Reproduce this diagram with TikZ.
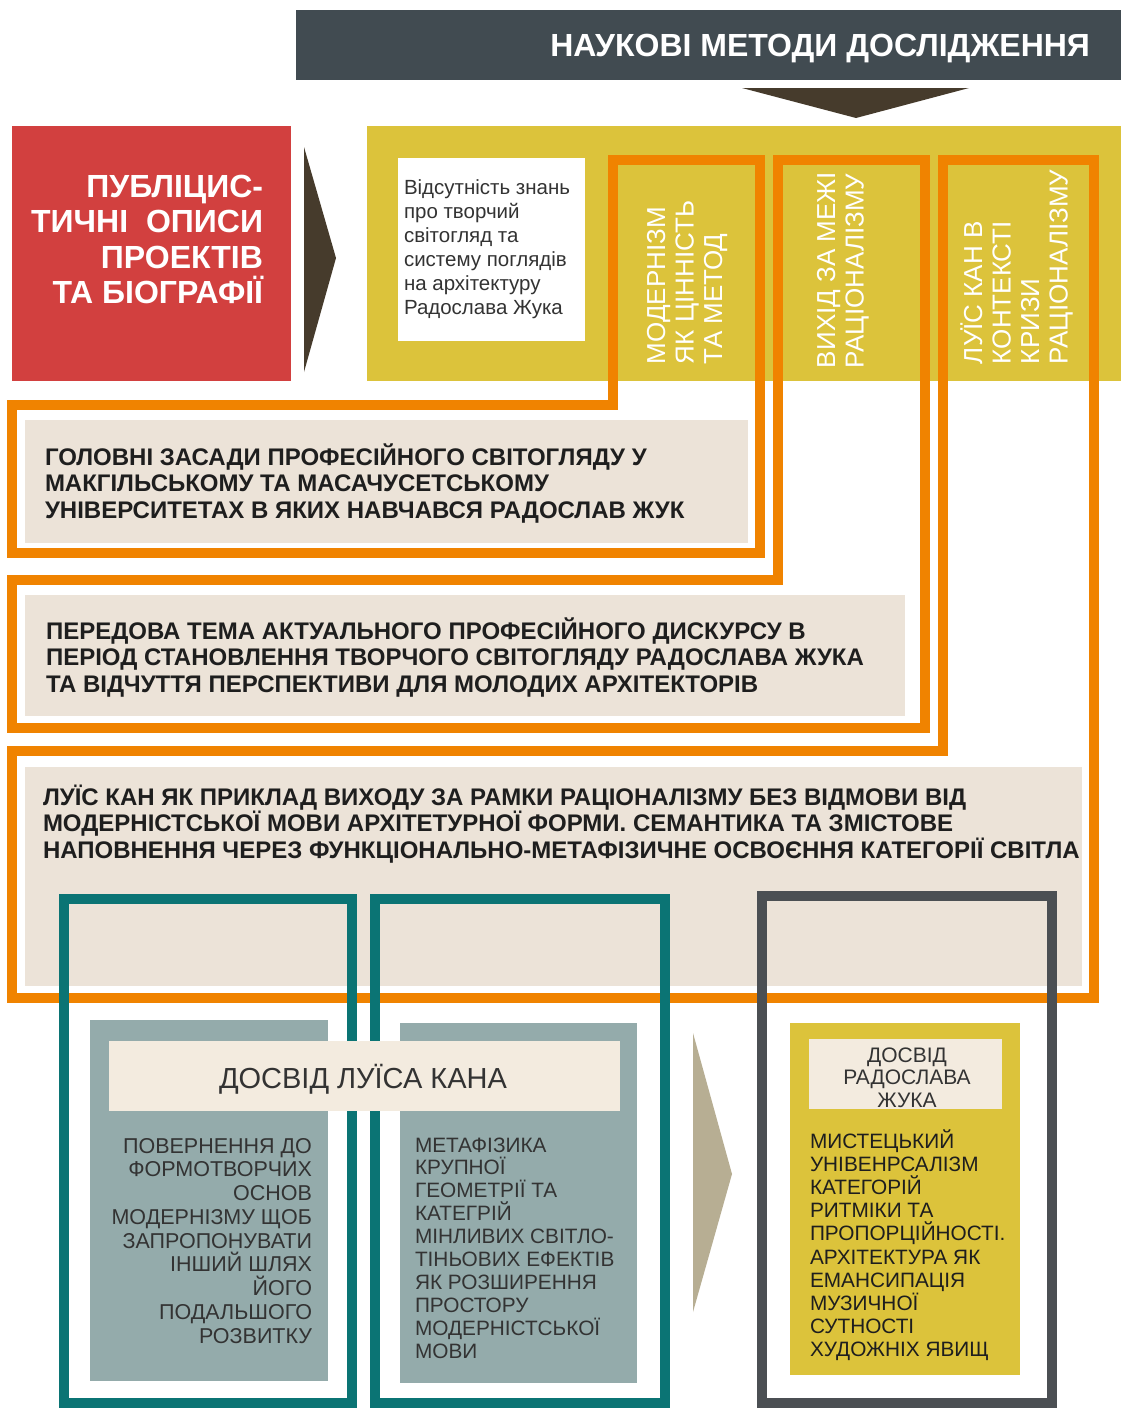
\documentclass[tikz,border=0pt]{standalone}
\usepackage{fontspec}
\setmainfont{Liberation Sans}
\definecolor{hdr}{HTML}{414B51}
\definecolor{brn}{HTML}{463B2C}
\definecolor{redbox}{HTML}{D2403F}
\definecolor{yel}{HTML}{DCC33B}
\definecolor{orng}{HTML}{F08300}
\definecolor{beige}{HTML}{ECE3D8}
\definecolor{beigelt}{HTML}{F3EBDF}
\definecolor{tealc}{HTML}{0B7474}
\definecolor{grayfr}{HTML}{4B4F53}
\definecolor{graybox}{HTML}{94ABAB}
\definecolor{khaki}{HTML}{B7AE93}
\definecolor{txtdark}{HTML}{1E1E1E}
\definecolor{txtmid}{HTML}{333333}
\newcommand\Lleft[1]{\vtop{\halign{##\hfil\cr#1\crcr}}}
\newcommand\Lright[1]{\vtop{\halign{\hfil##\cr#1\crcr}}}
\newcommand\Lcent[1]{\vtop{\halign{\hfil##\hfil\cr#1\crcr}}}
\tikzset{
  txt/.style={inner sep=0pt, outer sep=0pt},
  ofr/.style={draw=orng, line width=10pt, line join=miter},
  tfr/.style={draw=tealc, line width=10pt, line join=miter},
  gfr/.style={draw=grayfr, line width=10pt, line join=miter},
  boldtxt/.style={txt, text=txtdark, font=\bfseries\fontsize{24}{26.5}\selectfont},
  vtxt/.style={txt, text=white, rotate=90, anchor=base west, font=\fontsize{26}{28.5}\selectfont},
}
\begin{document}
\begin{tikzpicture}[x=1pt,y=-1pt]
\useasboundingbox (0,0) rectangle (1121,1408);
\fill[white] (0,0) rectangle (1121,1408);

% header
\fill[hdr] (296,10) rectangle (1121,80);
\node[txt, anchor=base east, text=white, font=\bfseries\fontsize{32}{36}\selectfont] (title) at (1090,56) {НАУКОВІ МЕТОДИ ДОСЛІДЖЕННЯ};
\fill[brn] (742,88) -- (969,88) -- (856,118) -- cycle;

% red box
\fill[redbox] (12,126) rectangle (291,381);
\node[txt, anchor=base east, text=white, font=\bfseries\fontsize{32}{35.5}\selectfont] (pub) at (263,197)
  {\Lright{ПУБЛІЦИС-\cr ТИЧНІ\ \ ОПИСИ\cr ПРОЕКТІВ\cr ТА БІОГРАФІЇ}};
\fill[brn] (304,147) -- (336,258) -- (304,372) -- cycle;

% yellow band
\fill[yel] (367,126) rectangle (1121,381);
\fill[white] (398,158) rectangle (585,341);
\node[txt, anchor=base west, text=txtmid, font=\fontsize{20.5}{24}\selectfont] (abs) at (404,194)
  {\Lleft{Відсутність знань\cr про творчий\cr світогляд та\cr систему поглядів\cr на архітектуру\cr Радослава Жука}};

% beige boxes
\fill[beige] (25,420) rectangle (748,543);
\fill[beige] (25,595) rectangle (905,716);
\fill[beige] (25,767) rectangle (1082,986);

% orange frames
\draw[ofr] (613,160) -- (760,160) -- (760,553) -- (12,553) -- (12,405) -- (613,405) -- cycle;
\draw[ofr] (778,160) -- (925,160) -- (925,728) -- (12,728) -- (12,580) -- (778,580) -- cycle;
\draw[ofr] (943,160) -- (1094,160) -- (1094,998) -- (12,998) -- (12,751) -- (943,751) -- cycle;

% vertical texts
\node[vtxt] (c1) at (665,364) {\Lleft{МОДЕРНІЗМ\cr ЯК ЦІННІСТЬ\cr ТА МЕТОД}};
\node[vtxt] (c2) at (835,368) {\Lleft{ВИХІД ЗА МЕЖІ\cr РАЦІОНАЛІЗМУ}};
\node[vtxt] (c3) at (982,364) {\Lleft{ЛУЇС КАН В\cr КОНТЕКСТІ\cr КРИЗИ\cr РАЦІОНАЛІЗМУ}};

% bold texts
\node[boldtxt, anchor=base west] (t1) at (45,465)
  {\Lleft{ГОЛОВНІ ЗАСАДИ ПРОФЕСІЙНОГО СВІТОГЛЯДУ У\cr МАКГІЛЬСЬКОМУ ТА МАСАЧУСЕТСЬКОМУ\cr УНІВЕРСИТЕТАХ В ЯКИХ НАВЧАВСЯ РАДОСЛАВ ЖУК}};
\node[boldtxt, anchor=base west] (t2) at (46,639)
  {\Lleft{ПЕРЕДОВА ТЕМА АКТУАЛЬНОГО ПРОФЕСІЙНОГО ДИСКУРСУ В\cr ПЕРІОД СТАНОВЛЕННЯ ТВОРЧОГО СВІТОГЛЯДУ РАДОСЛАВА ЖУКА\cr ТА ВІДЧУТТЯ ПЕРСПЕКТИВИ ДЛЯ МОЛОДИХ АРХІТЕКТОРІВ}};
\node[boldtxt, anchor=base west] (t3) at (43,805)
  {\Lleft{ЛУЇС КАН ЯК ПРИКЛАД ВИХОДУ ЗА РАМКИ РАЦІОНАЛІЗМУ БЕЗ ВІДМОВИ ВІД\cr МОДЕРНІСТСЬКОЇ МОВИ АРХІТЕТУРНОЇ ФОРМИ. СЕМАНТИКА ТА ЗМІСТОВЕ\cr НАПОВНЕННЯ ЧЕРЕЗ ФУНКЦІОНАЛЬНО-МЕТАФІЗИЧНЕ ОСВОЄННЯ КАТЕГОРІЇ СВІТЛА}};

% lower boxes
\fill[graybox] (90,1020) rectangle (328,1381);
\fill[graybox] (400,1023) rectangle (637,1383);
\node[txt, anchor=base east, text=txtmid, font=\fontsize{21.5}{23.75}\selectfont] (ka) at (312,1153)
  {\Lright{ПОВЕРНЕННЯ ДО\cr ФОРМОТВОРЧИХ\cr ОСНОВ\cr МОДЕРНІЗМУ ЩОБ\cr ЗАПРОПОНУВАТИ\cr ІНШИЙ ШЛЯХ\cr ЙОГО\cr ПОДАЛЬШОГО\cr РОЗВИТКУ}};
\node[txt, anchor=base west, text=txtmid, font=\fontsize{20.8}{22.9}\selectfont] (kb) at (415,1152)
  {\Lleft{МЕТАФІЗИКА\cr КРУПНОЇ\cr ГЕОМЕТРІЇ ТА\cr КАТЕГРІЙ\cr МІНЛИВИХ СВІТЛО-\cr ТІНЬОВИХ ЕФЕКТІВ\cr ЯК РОЗШИРЕННЯ\cr ПРОСТОРУ\cr МОДЕРНІСТСЬКОЇ\cr МОВИ}};

\fill[khaki] (693,1033) -- (732,1174) -- (693,1312) -- cycle;

\fill[yel] (790,1023) rectangle (1020,1375);
\fill[beigelt] (809,1039) rectangle (1002,1109);
\node[txt, anchor=base, text=txtmid, font=\fontsize{21}{22.5}\selectfont] (zhl) at (907,1062)
  {\Lcent{ДОСВІД\cr РАДОСЛАВА\cr ЖУКА}};
\node[txt, anchor=base west, text=txtdark, font=\fontsize{20.8}{23.2}\selectfont] (zh) at (810,1148)
  {\Lleft{МИСТЕЦЬКИЙ\cr УНІВЕНРСАЛІЗМ\cr КАТЕГОРІЙ\cr РИТМІКИ ТА\cr ПРОПОРЦІЙНОСТІ.\cr АРХІТЕКТУРА ЯК\cr ЕМАНСИПАЦІЯ\cr МУЗИЧНОЇ\cr СУТНОСТІ\cr ХУДОЖНІХ ЯВИЩ}};

% teal and gray frames
\draw[tfr] (64,899) rectangle (352,1403);
\draw[tfr] (375,899) rectangle (665,1403);
\draw[gfr] (762,896) rectangle (1052,1403);

% label over the teal frames
\fill[beigelt] (109,1041) rectangle (620,1111);
\node[txt, anchor=base, text=txtmid, font=\fontsize{29}{32}\selectfont] (kahn) at (363,1088) {ДОСВІД ЛУЇСА КАНА};
\end{tikzpicture}
\end{document}
